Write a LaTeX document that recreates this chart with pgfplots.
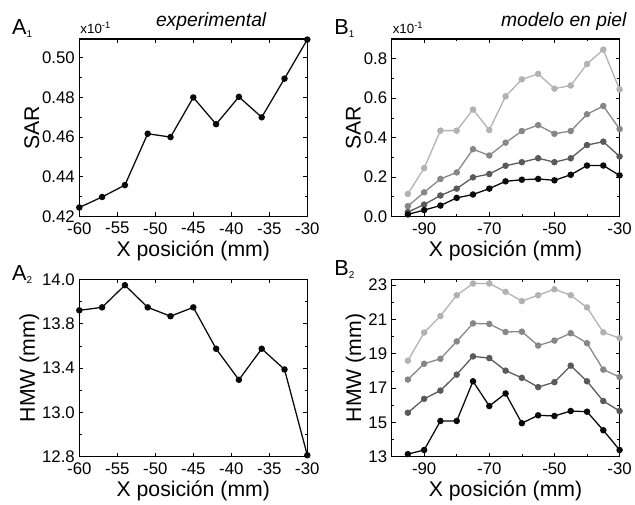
\documentclass[border=0pt]{standalone}
\usepackage{fontspec}
\setmainfont{Liberation Sans}
\usepackage{pgfplots}
\pgfplotsset{compat=1.18}
\definecolor{gA}{HTML}{B2B2B2}
\definecolor{gB}{HTML}{878787}
\definecolor{gC}{HTML}{5A5A5A}
\definecolor{gD}{HTML}{0A0A0A}
\pgfplotsset{
  panel/.style={
    scale only axis, width=230bp, height=179bp,
    axis line style={line width=1.3pt},
    tick align=inside,
    major tick length=4bp, minor tick length=2.5bp,
    every tick/.style={line width=0.6pt, black},
    tick label style={font=\fontsize{17}{19}\selectfont},
    xticklabel style={yshift=-2.5bp},
    yticklabel style={xshift=-1bp},
    label style={font=\fontsize{21.5}{24}\selectfont},
    clip=false,
    xlabel={X posición (mm)},
    xlabel style={yshift=0bp},
    ylabel style={yshift=-4bp},
  },
  ser/.style={#1, line width=1.3pt, mark=*, mark size=2.6bp, mark options={fill=#1, draw=#1}},
}
\begin{document}
\begin{tikzpicture}
\path (0,0) rectangle (635bp,508bp);
% ---------- A1
\begin{axis}[panel, at={(80bp,289.7bp)}, anchor=south west,
  xmin=-60, xmax=-30, ymin=0.42, ymax=0.5095,
  xtick={-60,-55,-50,-45,-40,-35,-30},
  xticklabels={-60,-55,-50,-45,-40,-35,-30},
  ytick={0.42,0.44,0.46,0.48,0.50},
  yticklabels={0.42,0.44,0.46,0.48,0.50},
  minor ytick={0.43,0.45,0.47,0.49},
  ylabel={SAR}]
\addplot[ser=gD] coordinates {(-60,0.4245) (-57,0.4298) (-54,0.4358) (-51,0.4617) (-48,0.4600) (-45,0.4800) (-42,0.4665) (-39,0.4803) (-36,0.4700) (-33,0.4895) (-30,0.5092)};
\end{axis}
% ---------- B1
\begin{axis}[panel, at={(395bp,289.7bp)}, anchor=south west,
  xmin=-100, xmax=-30, ymin=0, ymax=0.9,
  xtick={-90,-70,-50,-30}, xticklabels={-90,-70,-50,-30},
  minor xtick={-80,-60,-40},
  ytick={0,0.2,0.4,0.6,0.8}, yticklabels={0.0,0.2,0.4,0.6,0.8},
  minor ytick={0.1,0.3,0.5,0.7},
  ylabel={SAR}]
\addplot[ser=gA] coordinates {(-95,0.114) (-90,0.245) (-85,0.435) (-80,0.435) (-75,0.542) (-70,0.438) (-65,0.609) (-60,0.695) (-55,0.723) (-50,0.648) (-45,0.664) (-40,0.773) (-35,0.846) (-30,0.644)};
\addplot[ser=gB] coordinates {(-95,0.052) (-90,0.122) (-85,0.190) (-80,0.223) (-75,0.341) (-70,0.309) (-65,0.374) (-60,0.433) (-55,0.463) (-50,0.419) (-45,0.433) (-40,0.518) (-35,0.560) (-30,0.443)};
\addplot[ser=gC] coordinates {(-95,0.022) (-90,0.060) (-85,0.106) (-80,0.141) (-75,0.198) (-70,0.215) (-65,0.257) (-60,0.275) (-55,0.295) (-50,0.275) (-45,0.295) (-40,0.362) (-35,0.379) (-30,0.304)};
\addplot[ser=gD] coordinates {(-95,0.010) (-90,0.032) (-85,0.055) (-80,0.094) (-75,0.111) (-70,0.141) (-65,0.178) (-60,0.186) (-55,0.190) (-50,0.183) (-45,0.211) (-40,0.258) (-35,0.258) (-30,0.208)};
\end{axis}
% ---------- A2
\begin{axis}[panel, at={(80bp,47.3bp)}, anchor=south west,
  xmin=-60, xmax=-30, ymin=12.8, ymax=14.0,
  xtick={-60,-55,-50,-45,-40,-35,-30},
  xticklabels={-60,-55,-50,-45,-40,-35,-30},
  ytick={12.8,13.1,13.4,13.7,14.0},
  yticklabels={12.8,13.0,13.4,13.8,14.0},
  minor ytick={12.95,13.25,13.55,13.85},
  ylabel={HMW (mm)}]
\addplot[ser=gD] coordinates {(-60,13.79) (-57,13.81) (-54,13.96) (-51,13.81) (-48,13.75) (-45,13.81) (-42,13.53) (-39,13.32) (-36,13.53) (-33,13.39) (-30,12.81)};
\end{axis}
% ---------- B2
\begin{axis}[panel, at={(395bp,47.3bp)}, anchor=south west,
  xmin=-100, xmax=-30, ymin=13, ymax=23.33,
  xtick={-90,-70,-50,-30}, xticklabels={-90,-70,-50,-30},
  minor xtick={-80,-60,-40},
  ytick={13,15,17,19,21,23}, yticklabels={13,15,17,19,21,23},
  minor ytick={14,16,18,20,22},
  ylabel={HMW (mm)}]
\addplot[ser=gA] coordinates {(-95,18.59) (-90,20.23) (-85,21.19) (-80,22.40) (-75,23.08) (-70,23.08) (-65,22.60) (-60,22.06) (-55,22.40) (-50,22.75) (-45,22.40) (-40,21.69) (-35,20.24) (-30,19.90)};
\addplot[ser=gB] coordinates {(-95,17.49) (-90,18.41) (-85,18.70) (-80,19.71) (-75,20.76) (-70,20.73) (-65,20.26) (-60,20.28) (-55,19.47) (-50,19.76) (-45,20.19) (-40,19.61) (-35,18.07) (-30,17.64)};
\addplot[ser=gC] coordinates {(-95,15.56) (-90,16.37) (-85,16.85) (-80,17.78) (-75,18.84) (-70,18.74) (-65,18.01) (-60,17.59) (-55,17.05) (-50,17.34) (-45,18.30) (-40,17.39) (-35,16.24) (-30,15.66)};
\addplot[ser=gD] coordinates {(-95,13.15) (-90,13.39) (-85,15.08) (-80,15.08) (-75,17.39) (-70,15.95) (-65,16.68) (-60,14.95) (-55,15.41) (-50,15.37) (-45,15.66) (-40,15.62) (-35,14.54) (-30,13.39)};
\end{axis}
% ---------- annotations
\node[anchor=base west, inner sep=0pt] at (12bp,473bp) {\fontsize{22}{24}\selectfont A\textsubscript{\fontsize{10}{11}\selectfont 1}};
\node[anchor=base west, inner sep=0pt] at (337bp,473bp) {\fontsize{22}{24}\selectfont B\textsubscript{\fontsize{10}{11}\selectfont 1}};
\node[anchor=base west, inner sep=0pt] at (12bp,225bp) {\fontsize{22}{24}\selectfont A\textsubscript{\fontsize{10}{11}\selectfont 2}};
\node[anchor=base west, inner sep=0pt] at (337bp,230bp) {\fontsize{22}{24}\selectfont B\textsubscript{\fontsize{10}{11}\selectfont 2}};
\node[anchor=base west, inner sep=0pt] at (81bp,474bp) {\fontsize{13.5}{15}\selectfont x10\textsuperscript{-1}};
\node[anchor=base west, inner sep=0pt] at (396bp,474bp) {\fontsize{13.5}{15}\selectfont x10\textsuperscript{-1}};
\node[anchor=base, inner sep=0pt] at (213bp,481bp) {\fontsize{19.5}{22}\selectfont\itshape experimental};
\node[anchor=base east, inner sep=0pt] at (632bp,481bp) {\fontsize{19.5}{22}\selectfont\itshape modelo en piel};
\end{tikzpicture}
\end{document}
